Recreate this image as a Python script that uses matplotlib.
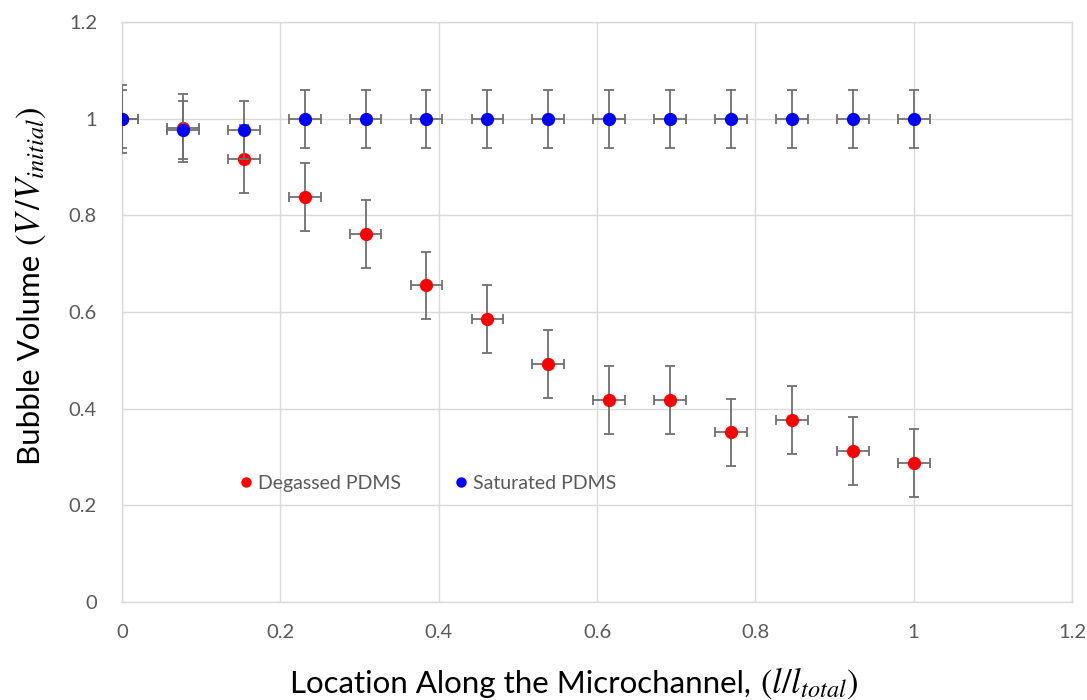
import matplotlib
matplotlib.use("Agg")
import matplotlib.pyplot as plt
from matplotlib.lines import Line2D

x = [0.0, 0.0769, 0.1538, 0.2308, 0.3077, 0.3846, 0.4615, 0.5385,
     0.6154, 0.6923, 0.7692, 0.8462, 0.9231, 1.0]
degassed = [1.0, 0.98, 0.917, 0.838, 0.762, 0.655, 0.586, 0.492,
            0.418, 0.418, 0.351, 0.377, 0.312, 0.288]
saturated = [1.0, 0.977, 0.977, 1.0, 1.0, 1.0, 1.0, 1.0,
             1.0, 1.0, 1.0, 1.0, 1.0, 1.0]
x_err = 0.02
y_err_deg = 0.07
y_err_sat = 0.06
xticks = [0, 0.2, 0.4, 0.6, 0.8, 1, 1.2]
yticks = [0, 0.2, 0.4, 0.6, 0.8, 1, 1.2]

plt.rcParams['font.family'] = ['Lato', 'DejaVu Sans']
plt.rcParams['mathtext.fontset'] = 'stix'

W, H = 1087, 700
fig = plt.figure(figsize=(W / 100, H / 100), dpi=100)
ax = fig.add_axes([122 / W, 1 - 602 / H, 950 / W, 580 / H])

ebkw = dict(fmt='o', ms=8.5, ecolor='#707070', elinewidth=1.3, capsize=3.6,
            capthick=1.3)
ax.errorbar(x, degassed, xerr=x_err, yerr=y_err_deg, color='#ff0000',
            mec='#ff0000', label='Degassed PDMS', zorder=3, **ebkw)
ax.errorbar(x, saturated, xerr=x_err, yerr=y_err_sat, color='#0000ff',
            mec='#0000ff', label='Saturated PDMS', zorder=4, **ebkw)

ax.set_xlim(0, 1.2)
ax.set_ylim(0, 1.2)
ax.set_xticks(xticks)
ax.set_yticks(yticks)
ax.set_xticklabels([f"{t:g}" for t in xticks])
ax.set_yticklabels([f"{t:g}" for t in yticks])
ax.tick_params(length=0, labelsize=14.5, colors='#595959')
ax.tick_params(axis='x', pad=16)
ax.tick_params(axis='y', pad=18)
ax.grid(True, color='#d9d9d9', linewidth=1)
ax.set_axisbelow(True)
for s in ax.spines.values():
    s.set_color('#d9d9d9')
    s.set_linewidth(1)

# axis titles: plain part + larger math part placed adjacent
fig.canvas.draw()
r = fig.canvas.get_renderer()
tx = fig.text(290 / W, 1 - 693 / H, 'Location Along the Microchannel, ',
              fontsize=22.5, va='baseline', ha='left', color='black')
bb = tx.get_window_extent(r)
fig.text(bb.x1 / W + 0.001, 1 - 693 / H, r'$(l/l_{total})$', fontsize=25,
         va='baseline', ha='left', color='black')

ty = fig.text(40 / W, 1 - 465 / H, 'Bubble Volume ', fontsize=22.5,
              rotation=90, rotation_mode='anchor', va='baseline', ha='left',
              color='black')
bb = ty.get_window_extent(r)
fig.text(40 / W, bb.y1 / H + 0.001, r'$(V\,/V_{initial})$', fontsize=25,
         rotation=90, rotation_mode='anchor', va='baseline', ha='left',
         color='black')

handles = [Line2D([], [], marker='o', ls='', color='#ff0000', ms=7.5, mew=0),
           Line2D([], [], marker='o', ls='', color='#0000ff', ms=7.5, mew=0)]
leg = ax.legend(handles, ['Degassed PDMS', 'Saturated PDMS'], loc='center',
                bbox_to_anchor=(0.3205, 0.205), ncol=2,
                frameon=False, fontsize=14, handletextpad=0.1, columnspacing=2.6,
                handlelength=1.0)
for t in leg.get_texts():
    t.set_color('#595959')

fig.savefig('out.png', dpi=100)
